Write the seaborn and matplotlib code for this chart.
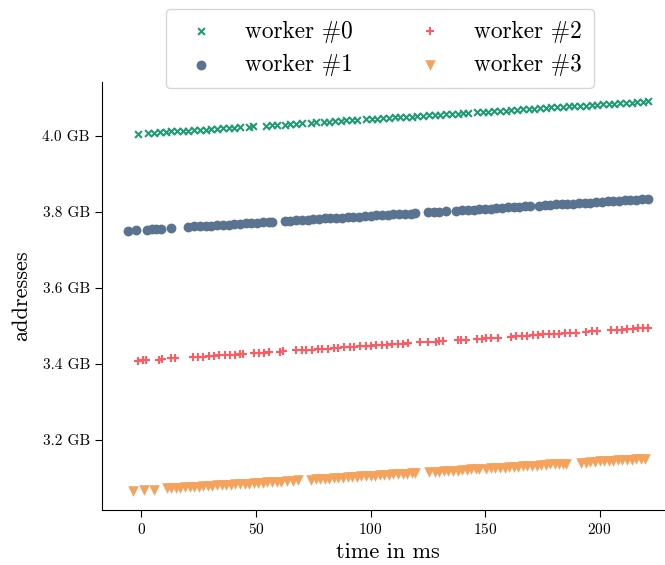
#!/usr/bin/env python3
import pandas as pd
import matplotlib
matplotlib.use("Agg")
import matplotlib.pyplot as plt
from matplotlib.ticker import FuncFormatter, MultipleLocator
import seaborn as sns

workers = ["worker #0", "worker #1", "worker #2", "worker #3"]
colors = ["#1f9a74", "#5a7390", "#fe5c62", "#f5a25d"]

# worker #0 : time in ms / address in GB
t0 = [-1.5, 3.0, 5.5, 8.0, 10.5, 13.0, 15.5, 18.0, 20.5, 23.0, 25.5, 28.0, 30.5, 33.0,
      35.5, 38.0, 40.5, 43.0, 47.0, 48.5, 54.5, 57.0, 59.0, 62.5, 65.0, 67.5, 70.0,
      74.0, 76.0, 79.5, 82.0, 84.5, 87.0, 89.5, 92.0, 94.0, 98.0, 100.5, 103.0, 105.5,
      108.0, 110.5, 113.0, 115.5, 118.0, 120.5, 123.0, 125.5, 128.0, 130.5, 133.0,
      135.5, 138.0, 140.5, 142.5, 146.5, 149.0, 151.5, 154.0, 156.5, 159.0, 161.5,
      164.0, 166.5, 169.0, 171.5, 174.0, 176.5, 179.0, 181.5, 184.0, 186.5, 189.0,
      191.5, 194.0, 196.5, 199.0, 201.5, 204.0, 206.5, 209.0, 211.5, 214.0, 216.5,
      219.0, 221.0]
a0 = [4.005, 4.007, 4.008, 4.009, 4.010, 4.011, 4.012, 4.012, 4.013, 4.014, 4.015, 4.016,
      4.017, 4.018, 4.019, 4.020, 4.021, 4.022, 4.023, 4.024, 4.026, 4.027, 4.028, 4.029,
      4.030, 4.031, 4.032, 4.034, 4.035, 4.036, 4.037, 4.038, 4.039, 4.040, 4.041, 4.041,
      4.043, 4.044, 4.045, 4.046, 4.047, 4.048, 4.049, 4.050, 4.050, 4.051, 4.052, 4.053,
      4.054, 4.055, 4.056, 4.057, 4.058, 4.059, 4.060, 4.061, 4.062, 4.063, 4.064, 4.065,
      4.066, 4.067, 4.068, 4.069, 4.070, 4.071, 4.072, 4.073, 4.074, 4.075, 4.076, 4.077,
      4.077, 4.078, 4.079, 4.080, 4.081, 4.082, 4.083, 4.084, 4.085, 4.086, 4.087, 4.088,
      4.089, 4.090]

# worker #1
t1 = [-6.0, -2.5, 2.5, 4.5, 6.5, 8.5, 13.0, 20.5, 23.0, 25.5, 28.0, 30.5, 33.0, 35.5,
      38.0, 40.5, 43.0, 45.5, 48.0, 50.5, 53.0, 55.5, 57.0, 62.5, 65.0, 67.5, 70.0, 72.5,
      75.0, 77.5, 80.0, 82.5, 85.0, 87.5, 90.0, 92.5, 95.0, 97.5, 100.0, 102.5, 105.0,
      107.5, 110.0, 112.5, 115.0, 117.5, 119.5, 125.0, 127.5, 130.0, 133.0, 137.5, 140.0,
      142.5, 145.0, 147.5, 150.0, 152.5, 155.0, 157.5, 160.0, 162.5, 165.0, 167.5, 169.5,
      173.5, 176.0, 178.5, 181.0, 183.5, 186.0, 188.5, 191.0, 193.5, 196.0, 198.5, 201.0,
      203.5, 206.0, 208.5, 211.0, 213.5, 216.0, 218.5, 221.0]
a1 = [3.750, 3.751, 3.753, 3.754, 3.755, 3.755, 3.757, 3.760, 3.761, 3.762, 3.762, 3.763,
      3.764, 3.765, 3.766, 3.767, 3.768, 3.769, 3.770, 3.771, 3.772, 3.773, 3.773, 3.775,
      3.776, 3.777, 3.778, 3.779, 3.780, 3.781, 3.782, 3.782, 3.783, 3.784, 3.785, 3.786,
      3.787, 3.788, 3.789, 3.790, 3.791, 3.792, 3.793, 3.793, 3.794, 3.795, 3.796, 3.798,
      3.799, 3.800, 3.801, 3.803, 3.804, 3.804, 3.805, 3.806, 3.807, 3.808, 3.809, 3.810,
      3.811, 3.812, 3.813, 3.814, 3.814, 3.816, 3.817, 3.818, 3.819, 3.820, 3.820, 3.821,
      3.822, 3.823, 3.824, 3.825, 3.826, 3.827, 3.828, 3.829, 3.830, 3.831, 3.831, 3.832,
      3.833]

# worker #2
t2 = [-1.5, 0.5, 2.0, 7.5, 9.0, 13.0, 14.5, 22.5, 24.5, 27.0, 29.5, 31.5, 34.0, 36.5,
      38.5, 41.0, 43.0, 44.5, 49.0, 51.5, 53.5, 55.5, 60.5, 62.0, 67.5, 70.0, 72.0, 74.5,
      77.0, 79.0, 81.5, 84.0, 86.0, 88.5, 91.0, 93.0, 95.5, 98.0, 100.0, 102.5, 105.0,
      107.0, 109.5, 112.0, 114.0, 116.5, 121.5, 125.0, 128.5, 130.0, 131.5, 138.0, 139.5,
      141.5, 146.5, 148.5, 150.5, 152.5, 155.5, 161.5, 163.5, 166.0, 168.5, 171.0, 173.0,
      175.5, 178.0, 180.0, 182.5, 185.0, 187.0, 189.5, 194.0, 196.5, 199.0, 205.0, 207.5,
      210.0, 212.0, 214.5, 217.0, 219.0, 221.0]
a2 = [3.408, 3.409, 3.409, 3.411, 3.412, 3.414, 3.414, 3.417, 3.418, 3.419, 3.420, 3.421,
      3.422, 3.423, 3.424, 3.424, 3.425, 3.426, 3.428, 3.429, 3.429, 3.430, 3.432, 3.433,
      3.435, 3.436, 3.436, 3.437, 3.438, 3.439, 3.440, 3.441, 3.442, 3.443, 3.444, 3.445,
      3.446, 3.447, 3.447, 3.448, 3.449, 3.450, 3.451, 3.452, 3.453, 3.454, 3.456, 3.457,
      3.458, 3.459, 3.459, 3.462, 3.463, 3.463, 3.465, 3.466, 3.467, 3.468, 3.469, 3.471,
      3.472, 3.473, 3.474, 3.475, 3.476, 3.477, 3.477, 3.478, 3.479, 3.480, 3.481, 3.482,
      3.484, 3.485, 3.486, 3.488, 3.489, 3.490, 3.491, 3.492, 3.493, 3.493, 3.494]

# worker #3
t3 = [-3.6, 1.0, 5.5, 11.0, 13.0, 15.0, 17.0, 19.0, 21.0, 23.0, 25.0, 27.0, 29.0, 31.0,
      33.0, 35.0, 37.0, 39.0, 41.0, 43.0, 45.0, 47.0, 49.0, 51.0, 53.0, 55.0, 57.0, 59.0,
      61.0, 63.5, 66.0, 68.5, 74.0, 76.0, 78.0, 80.0, 82.0, 84.0, 86.0, 88.0, 90.0, 92.0,
      94.0, 96.0, 98.0, 100.0, 102.0, 104.0, 106.0, 108.0, 110.0, 112.0, 114.0, 116.0,
      118.0, 119.5, 125.5, 128.0, 130.0, 132.0, 134.0, 136.0, 138.0, 140.0, 142.0, 144.0,
      146.0, 147.5, 150.5, 152.5, 154.5, 156.5, 158.5, 160.5, 162.5, 164.5, 166.5, 168.5,
      170.5, 172.5, 174.5, 176.5, 178.5, 180.5, 182.5, 184.0, 185.5, 192.0, 194.0, 196.0,
      198.0, 200.0, 202.0, 204.0, 206.0, 208.0, 210.0, 212.0, 214.0, 216.0, 218.0, 220.0]
a3 = [3.066, 3.068, 3.069, 3.072, 3.072, 3.073, 3.074, 3.075, 3.075, 3.076, 3.077, 3.078,
      3.078, 3.079, 3.080, 3.081, 3.081, 3.082, 3.083, 3.084, 3.084, 3.085, 3.086, 3.087,
      3.087, 3.088, 3.089, 3.090, 3.090, 3.091, 3.092, 3.093, 3.095, 3.096, 3.097, 3.097,
      3.098, 3.099, 3.100, 3.100, 3.101, 3.102, 3.103, 3.104, 3.104, 3.105, 3.106, 3.107,
      3.107, 3.108, 3.109, 3.110, 3.110, 3.111, 3.112, 3.112, 3.115, 3.116, 3.116, 3.117,
      3.118, 3.119, 3.119, 3.120, 3.121, 3.122, 3.122, 3.123, 3.124, 3.125, 3.125, 3.126,
      3.127, 3.128, 3.129, 3.129, 3.130, 3.131, 3.132, 3.132, 3.133, 3.134, 3.135, 3.135,
      3.136, 3.137, 3.137, 3.140, 3.140, 3.141, 3.142, 3.143, 3.143, 3.144, 3.145, 3.146,
      3.146, 3.147, 3.148, 3.149, 3.149, 3.150]


def main():
    sns.set_style("ticks")
    plt.rcParams["font.family"] = ["cmr10", "DejaVu Serif"]
    plt.rcParams["mathtext.fontset"] = "cm"
    plt.rcParams["axes.formatter.use_mathtext"] = True
    plt.rcParams["text.color"] = "black"
    plt.rcParams["axes.labelcolor"] = "black"
    plt.rcParams["xtick.color"] = "black"
    plt.rcParams["ytick.color"] = "black"
    plt.rcParams["axes.edgecolor"] = "black"

    frames = []
    for name, t, a in zip(workers, [t0, t1, t2, t3], [a0, a1, a2, a3]):
        frames.append(pd.DataFrame({"time": t, "address": a, "worker": name}))
    df = pd.concat(frames, ignore_index=True)

    fig = plt.figure(figsize=(6.65, 5.65), dpi=100)
    ax = fig.add_axes([0.153, 0.097, 0.86, 0.758])

    # line-art and filled markers can't be mixed in one seaborn call
    styles = [("x", 24, 1.5), ("o", 50, 0), ("+", 36, 1.5), ("v", 58, 0)]
    for name, color, (marker, size, lw) in zip(workers, colors, styles):
        sub = df[df["worker"] == name]
        sns.scatterplot(data=sub, x="time", y="address", ax=ax, marker=marker,
                        s=size, color=color, linewidth=lw, label=name)

    ax.yaxis.set_major_locator(MultipleLocator(0.2))
    ax.yaxis.set_major_formatter(FuncFormatter(lambda v, p: f"{v:.1f} GB"))
    ax.tick_params(labelsize=11, length=5)
    ax.set_xlabel("time in ms", fontsize=16)
    ax.set_ylabel("addresses", fontsize=16, labelpad=8)
    sns.despine(ax=ax)

    ax.legend(ncol=2, loc="upper center", bbox_to_anchor=(0.486, 1.198),
              fontsize=16.8, handletextpad=0.9, columnspacing=2.3,
              labelspacing=0.5, borderpad=0.5)

    fig.savefig("out.png", dpi=100)


if __name__ == "__main__":
    main()
